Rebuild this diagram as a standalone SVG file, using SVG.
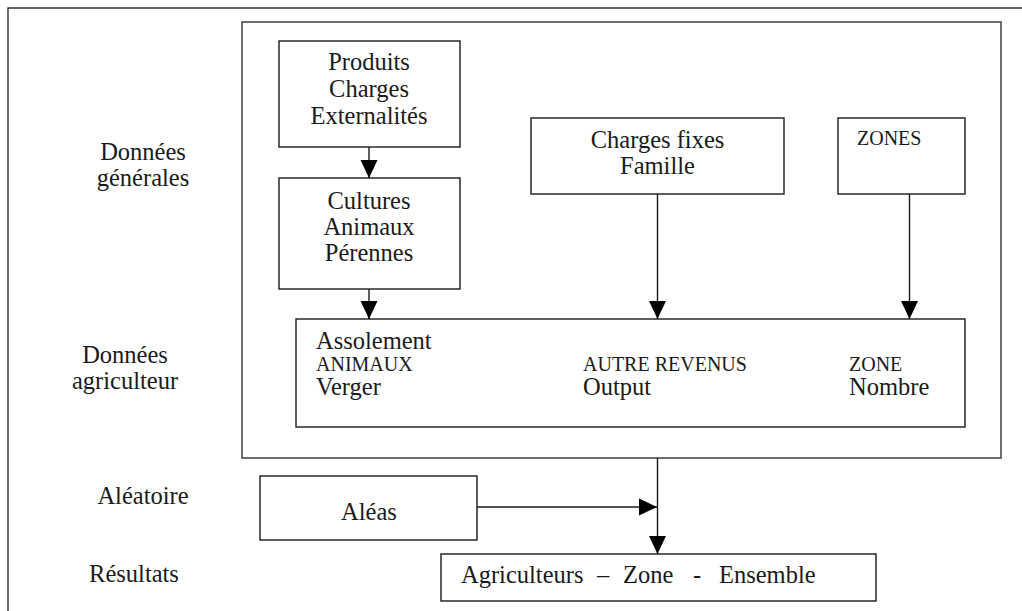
<svg xmlns="http://www.w3.org/2000/svg" width="1022" height="611" viewBox="0 0 1022 611">
<style>
.box{fill:#fff;stroke:#1a1a1a;stroke-width:1.4}
.frame{fill:none;stroke:#333;stroke-width:1.4}
text{font-family:'Liberation Serif',serif;fill:#1a1a1a}
.t{font-size:24.5px}
.s{font-size:20px}
.c{text-anchor:middle}
.edge{fill:none;stroke:#1a1a1a;stroke-width:1.4}
</style>
<defs>
<marker id="ah" markerUnits="userSpaceOnUse" markerWidth="18" markerHeight="18" viewBox="0 0 18 18" refX="18" refY="9" orient="auto">
<path d="M0,0.5 L18,9 L0,17.5 Z" fill="#000"/>
</marker>
</defs>
<rect width="1022" height="611" fill="#fff"/>
<path class="frame" d="M1030,8 H8 V620"/>
<rect class="frame" x="242" y="22" width="759" height="436"/>
<g id="labels">
<text class="t c" x="143" y="160">Données</text>
<text class="t c" x="143" y="186">générales</text>
<text class="t c" x="125" y="363">Données</text>
<text class="t c" x="125" y="389">agriculteur</text>
<text class="t c" x="143" y="504">Aléatoire</text>
<text class="t c" x="134" y="582">Résultats</text>
</g>
<g id="produits">
<rect class="box" x="279" y="41" width="181" height="106"/>
<text class="t c" x="369" y="70">Produits</text>
<text class="t c" x="369" y="97">Charges</text>
<text class="t c" x="369" y="124">Externalités</text>
</g>
<g id="cultures">
<rect class="box" x="279" y="178" width="181" height="111"/>
<text class="t c" x="369" y="209">Cultures</text>
<text class="t c" x="369" y="235">Animaux</text>
<text class="t c" x="369" y="261">Pérennes</text>
</g>
<g id="charges">
<rect class="box" x="531" y="118" width="253" height="76"/>
<text class="t c" x="657.5" y="148">Charges fixes</text>
<text class="t c" x="657.5" y="174">Famille</text>
</g>
<g id="zones">
<rect class="box" x="838" y="118" width="127" height="76"/>
<text class="s" x="857" y="145">ZONES</text>
</g>
<g id="agriculteur">
<rect class="box" x="296" y="319" width="669" height="108"/>
<text class="t" x="316" y="349">Assolement</text>
<text class="s" x="316" y="371">ANIMAUX</text>
<text class="t" x="316" y="395">Verger</text>
<text class="s" x="583" y="371">AUTRE REVENUS</text>
<text class="t" x="583" y="395">Output</text>
<text class="s" x="849" y="371">ZONE</text>
<text class="t" x="849" y="395">Nombre</text>
</g>
<g id="aleas">
<rect class="box" x="260" y="476" width="217" height="64"/>
<text class="t c" x="369" y="520">Aléas</text>
</g>
<g id="resultats">
<rect class="box" x="441" y="554" width="435" height="47"/>
<text class="t" y="583"><tspan x="461">Agriculteurs</tspan><tspan x="597">–</tspan><tspan x="623">Zone</tspan><tspan x="693">-</tspan><tspan x="719">Ensemble</tspan></text>
</g>
<g id="connectors">
<line class="edge" x1="369" y1="147" x2="369" y2="178" marker-end="url(#ah)"/>
<line class="edge" x1="369" y1="289" x2="369" y2="319" marker-end="url(#ah)"/>
<line class="edge" x1="657.5" y1="194" x2="657.5" y2="319" marker-end="url(#ah)"/>
<line class="edge" x1="909.5" y1="194" x2="909.5" y2="319" marker-end="url(#ah)"/>
<line class="edge" x1="657.5" y1="458" x2="657.5" y2="554" marker-end="url(#ah)"/>
<line class="edge" x1="477" y1="507" x2="657" y2="507" marker-end="url(#ah)"/>
</g>
</svg>
